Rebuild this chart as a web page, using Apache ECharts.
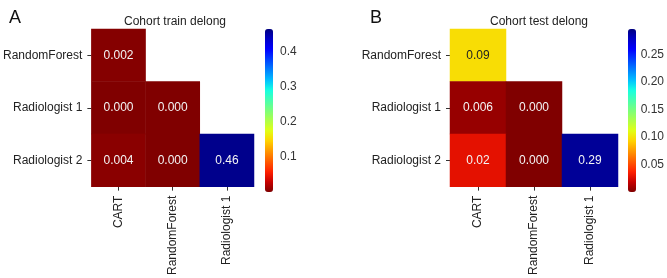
<!DOCTYPE html>
<html>
<head>
<meta charset="utf-8">
<script src="https://cdn.jsdelivr.net/npm/echarts@6/dist/echarts.min.js"></script>
<style>
  html, body {margin: 0; padding: 0; background: #fff;}
  #chart {width: 667px; height: 278px;}
</style>
</head>
<body>
<div id="chart"></div>
<script>
// categories
const xCats = ['CART', 'RandomForest', 'Radiologist 1'];
const yCats = ['RandomForest', 'Radiologist 1', 'Radiologist 2'];

// lower triangle cells: [xIndex, yIndex]
const cells = [[0, 0], [0, 1], [1, 1], [0, 2], [1, 2], [2, 2]];

// p-values (train / test) and printed labels
const trainVals = [0.002, 0.0002, 0.0001, 0.004, 0.0001, 0.46];
const trainText = ['0.002', '0.000', '0.000', '0.004', '0.000', '0.46'];
const testVals = [0.097, 0.006, 0.0001, 0.028, 0.0001, 0.29];
const testText = ['0.09', '0.006', '0.000', '0.02', '0.000', '0.29'];

// colorbar ranges and ticks
const trainRange = [0, 0.465];
const testRange = [0, 0.296];
const trainTicks = [0.1, 0.2, 0.3, 0.4];
const testTicks = [0.05, 0.10, 0.15, 0.20, 0.25];

// jet, reversed (low = dark red)
const jetR = ['#000080', '#0000c8', '#0000ff', '#0040ff', '#0080ff', '#00bfff', '#15ffe2', '#48ffaf',
    '#7bff7b', '#afff48', '#e2ff15', '#ffd200', '#ff9700', '#ff5c00', '#ff2100', '#c80000', '#800000'].reverse();

const font = 'Liberation Sans, Arial, sans-serif';

function mkData(vals, text) {
    return cells.map((c, i) => ({value: [c[0], c[1], vals[i]], label: {formatter: text[i]}}));
}

function heatAxes(gi) {
    return {
        x: {
            type: 'category', gridIndex: gi, data: xCats, position: 'bottom',
            axisLine: {show: false},
            axisTick: {show: true, alignWithLabel: true, length: 4, lineStyle: {color: '#333'}},
            axisLabel: {rotate: 90, fontSize: 12, color: '#222', fontFamily: font, margin: 9},
            splitLine: {show: false}
        },
        y: {
            type: 'category', gridIndex: gi, data: yCats, inverse: true,
            axisLine: {show: false},
            axisTick: {show: true, alignWithLabel: true, length: 4, lineStyle: {color: '#333'}},
            axisLabel: {fontSize: 12, color: '#222', fontFamily: font, margin: 9},
            splitLine: {show: false}
        }
    };
}

function barAxes(gi, range, ticks, digits) {
    return {
        x: {type: 'value', gridIndex: gi, show: false, min: 0, max: 1},
        y: {
            type: 'value', gridIndex: gi, position: 'right',
            min: range[0], max: range[1],
            axisLine: {show: false},
            axisTick: {show: true, length: 4, lineStyle: {color: '#333'}, customValues: ticks},
            axisLabel: {fontSize: 12, color: '#333', fontFamily: font, margin: 7,
                customValues: ticks, formatter: v => v.toFixed(digits)},
            splitLine: {show: false}
        }
    };
}

const a0 = heatAxes(0), a1 = heatAxes(1);
const b0 = barAxes(2, trainRange, trainTicks, 1), b1 = barAxes(3, testRange, testTicks, 2);

const labelStyle = {show: true, fontSize: 12, fontFamily: font, color: '#f4f4f4'};

const option = {
    backgroundColor: '#fff',
    animation: false,
    title: [
        {text: 'A', left: 4, top: 4, textStyle: {fontSize: 18, fontWeight: 'normal', color: '#111', fontFamily: font}},
        {text: 'B', left: 365, top: 4, textStyle: {fontSize: 18, fontWeight: 'normal', color: '#111', fontFamily: font}},
        {text: 'Cohort train delong', left: 170, top: 11, textAlign: 'center',
            textStyle: {fontSize: 12, fontWeight: 'normal', color: '#222', fontFamily: font}},
        {text: 'Cohort test delong', left: 534, top: 11, textAlign: 'center',
            textStyle: {fontSize: 12, fontWeight: 'normal', color: '#222', fontFamily: font}}
    ],
    grid: [
        {left: 86, top: 29, width: 168, height: 163},
        {left: 450, top: 29, width: 168, height: 163},
        {left: 265, top: 29, width: 8, height: 163},
        {left: 628, top: 29, width: 8, height: 163}
    ],
    xAxis: [a0.x, a1.x, b0.x, b1.x],
    yAxis: [a0.y, a1.y, b0.y, b1.y],
    visualMap: [
        {type: 'continuous', seriesIndex: 0, min: trainRange[0], max: trainRange[1],
            calculable: false, showLabel: false, text: null, padding: 0,
            itemWidth: 8, itemHeight: 163, left: 265, top: 29,
            inRange: {color: jetR}},
        {type: 'continuous', seriesIndex: 1, min: testRange[0], max: testRange[1],
            calculable: false, showLabel: false, text: null, padding: 0,
            itemWidth: 8, itemHeight: 163, left: 628, top: 29,
            inRange: {color: jetR}}
    ],
    series: [
        {type: 'heatmap', xAxisIndex: 0, yAxisIndex: 0, data: mkData(trainVals, trainText),
            label: labelStyle, emphasis: {disabled: true}},
        {type: 'heatmap', xAxisIndex: 1, yAxisIndex: 1,
            data: mkData(testVals, testText).map((d, i) => (testVals[i] > 0.05 && testVals[i] < 0.2)
                ? Object.assign(d, {label: {formatter: testText[i], color: '#222'}}) : d),
            label: labelStyle, emphasis: {disabled: true}}
    ]
};

const myChart = echarts.init(document.getElementById('chart'));
myChart.setOption(option);
</script>
</body>
</html>
